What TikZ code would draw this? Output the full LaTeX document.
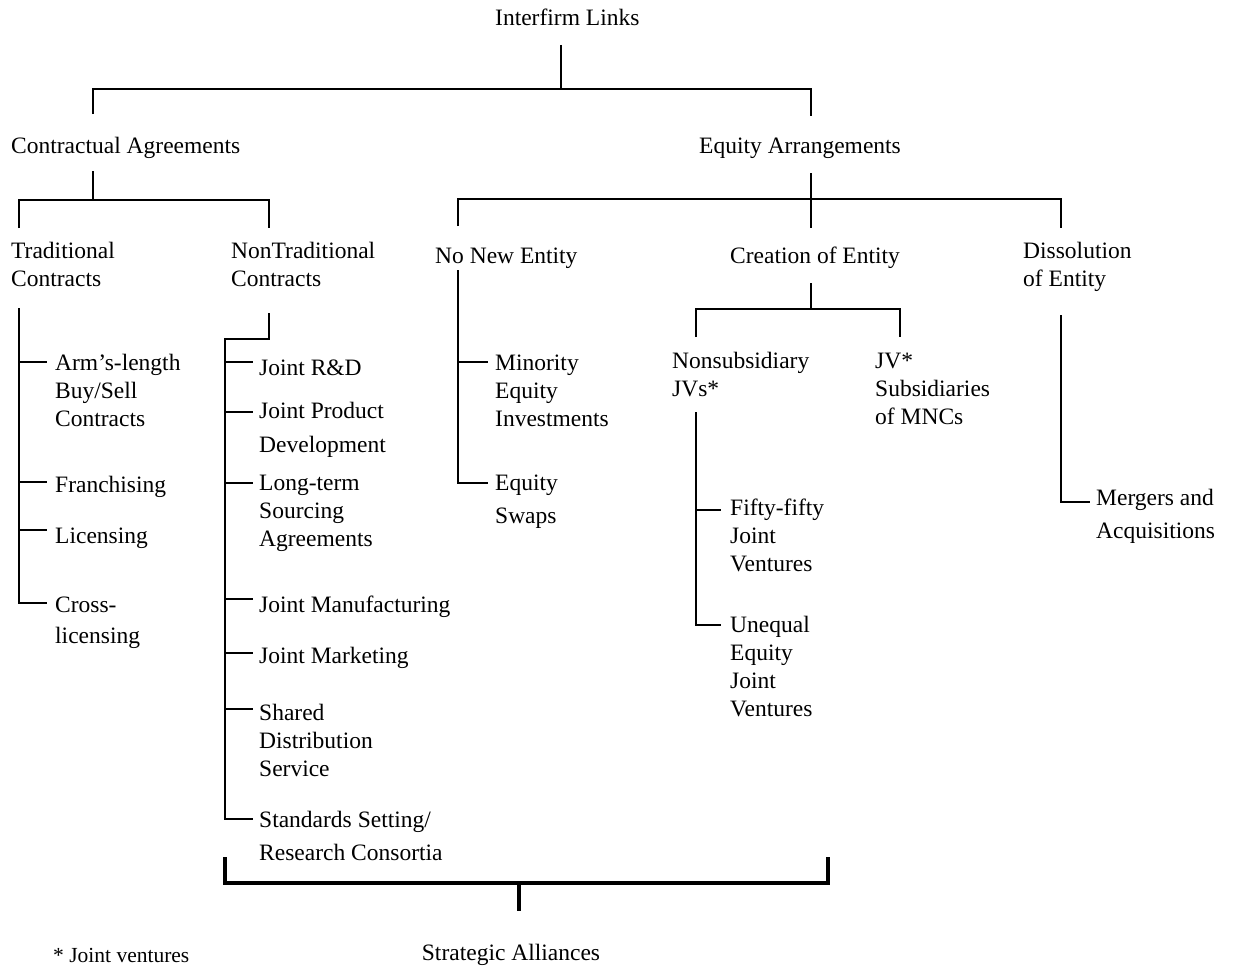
\documentclass[tikz,border=0pt]{standalone}
\usepackage{fontspec}
\setmainfont{Liberation Serif}
\newcommand{\ml}[1]{\begin{tabular}[t]{@{}l@{}}#1\end{tabular}}
\begin{document}
\begin{tikzpicture}[x=1pt,y=-1pt,
  lbl/.style={anchor=base west,inner sep=0pt,font=\fontsize{23.5}{28}\selectfont},
  ln/.style={line width=1.3pt},
  brk/.style={line width=4pt}]
\useasboundingbox (0,0) rectangle (1235,966);
% ---------- texts
\node[lbl] (top) at (495,26) {Interfirm Links};
\node[lbl] (ca) at (11,153) {Contractual Agreements};
\node[lbl] (ea) at (699,153) {Equity Arrangements};
\node[lbl] (tc) at (11,258) {\ml{Traditional\\Contracts}};
\node[lbl] (ntc) at (231,258) {\ml{NonTraditional\\Contracts}};
\node[lbl] (nne) at (435,263) {No New Entity};
\node[lbl] (ce) at (730,263) {Creation of Entity};
\node[lbl] (de) at (1023,258) {\ml{Dissolution\\of Entity}};
\node[lbl] (nsj) at (672,368) {\ml{Nonsubsidiary\\JVs*}};
\node[lbl] (jvs) at (875,368) {\ml{JV*\\Subsidiaries\\of MNCs}};
\node[lbl] (arm) at (55,370) {\ml{Arm’s-length\\Buy/Sell\\Contracts}};
\node[lbl] (fr) at (55,492) {Franchising};
\node[lbl] (lic) at (55,543) {Licensing};
\node[lbl] (cross) at (55,612) {\ml{Cross-\\[3pt]licensing}};
\node[lbl] (jrd) at (259,375) {Joint R\&D};
\node[lbl] (jpd) at (259,418) {\ml{Joint Product\\[6pt]Development}};
\node[lbl] (lts) at (259,490) {\ml{Long-term\\Sourcing\\Agreements}};
\node[lbl] (jm) at (259,612) {Joint Manufacturing};
\node[lbl] (jmk) at (259,663) {Joint Marketing};
\node[lbl] (sds) at (259,720) {\ml{Shared\\Distribution\\Service}};
\node[lbl] (ssr) at (259,827) {\ml{Standards Setting/\\[5pt]Research Consortia}};
\node[lbl] (mei) at (495,370) {\ml{Minority\\Equity\\Investments}};
\node[lbl] (es) at (495,490) {\ml{Equity\\[5pt]Swaps}};
\node[lbl] (ff) at (730,515) {\ml{Fifty-fifty\\Joint\\Ventures}};
\node[lbl] (ueq) at (730,632) {\ml{Unequal\\Equity\\Joint\\Ventures}};
\node[lbl] (ma) at (1096,505) {\ml{Mergers and\\[5pt]Acquisitions}};
\node[lbl,anchor=base] (sa) at (511,960) {Strategic Alliances};
\node[lbl,font=\fontsize{21.5}{26}\selectfont] (note) at (53,962) {* Joint ventures};
% ---------- junction coordinates
\coordinate (r0) at (561,45);  \coordinate (r1) at (561,89);
\coordinate (rl) at (93,89);   \coordinate (rl2) at (93,114);
\coordinate (rr) at (811,89);  \coordinate (rr2) at (811,116);
\coordinate (c0) at (93,171);  \coordinate (c1) at (93,200);
\coordinate (cl) at (19,200);  \coordinate (cl2) at (19,228);
\coordinate (cr) at (269,200); \coordinate (cr2) at (269,228);
\coordinate (e0) at (811,173); \coordinate (e1) at (811,228);
\coordinate (el) at (458,199); \coordinate (el2) at (458,226);
\coordinate (er) at (1061,199);\coordinate (er2) at (1061,228);
\coordinate (k0) at (811,283); \coordinate (k1) at (811,309);
\coordinate (kl) at (696,309); \coordinate (kl2) at (696,337);
\coordinate (kr) at (900,309); \coordinate (kr2) at (900,337);
\coordinate (t0) at (19,308);  \coordinate (t1) at (19,603);  \coordinate (t2) at (47,603);
\coordinate (n0) at (269,313); \coordinate (n1) at (269,339); \coordinate (n2) at (225,339);
\coordinate (n3) at (225,819); \coordinate (n4) at (253,819);
\coordinate (m0) at (458,270); \coordinate (m1) at (458,483); \coordinate (m2) at (488,483);
\coordinate (s0) at (696,412); \coordinate (s1) at (696,625); \coordinate (s2) at (721,625);
\coordinate (d0) at (1061,315);\coordinate (d1) at (1061,502);\coordinate (d2) at (1090,502);
\coordinate (bl) at (225,857); \coordinate (bl2) at (225,883);
\coordinate (br) at (828,857); \coordinate (br2) at (828,883);
\coordinate (bs0) at (519,883);\coordinate (bs1) at (519,911);
% ---------- connectors
\draw[ln] (r0) -- (r1);
\draw[ln] (rl2) -- (rl) -- (rr) -- (rr2);
\draw[ln] (c0) -- (c1);
\draw[ln] (cl2) -- (cl) -- (cr) -- (cr2);
\draw[ln] (e0) -- (e1);
\draw[ln] (el2) -- (el) -- (er) -- (er2);
\draw[ln] (k0) -- (k1);
\draw[ln] (kl2) -- (kl) -- (kr) -- (kr2);
\draw[ln] (t0) -- (t1) -- (t2);
\foreach \n/\y in {arm/362,fr/482,lic/530}{
  \coordinate (tb\n) at (19,\y); \coordinate (te\n) at (47,\y);
  \draw[ln] (tb\n) -- (te\n);}
\draw[ln] (n0) -- (n1) -- (n2) -- (n3) -- (n4);
\foreach \n/\y in {jrd/362,jpd/412,lts/483,jm/599,jmk/653,sds/709}{
  \coordinate (nb\n) at (225,\y); \coordinate (ne\n) at (253,\y);
  \draw[ln] (nb\n) -- (ne\n);}
\draw[ln] (m0) -- (m1) -- (m2);
\coordinate (mb) at (458,362); \coordinate (me) at (488,362);
\draw[ln] (mb) -- (me);
\draw[ln] (s0) -- (s1) -- (s2);
\coordinate (sb) at (696,510); \coordinate (se) at (721,510);
\draw[ln] (sb) -- (se);
\draw[ln] (d0) -- (d1) -- (d2);
\draw[brk] (bl) -- (bl2) -- (br2) -- (br);
\draw[brk] (bs0) -- (bs1);
\end{tikzpicture}
\end{document}
